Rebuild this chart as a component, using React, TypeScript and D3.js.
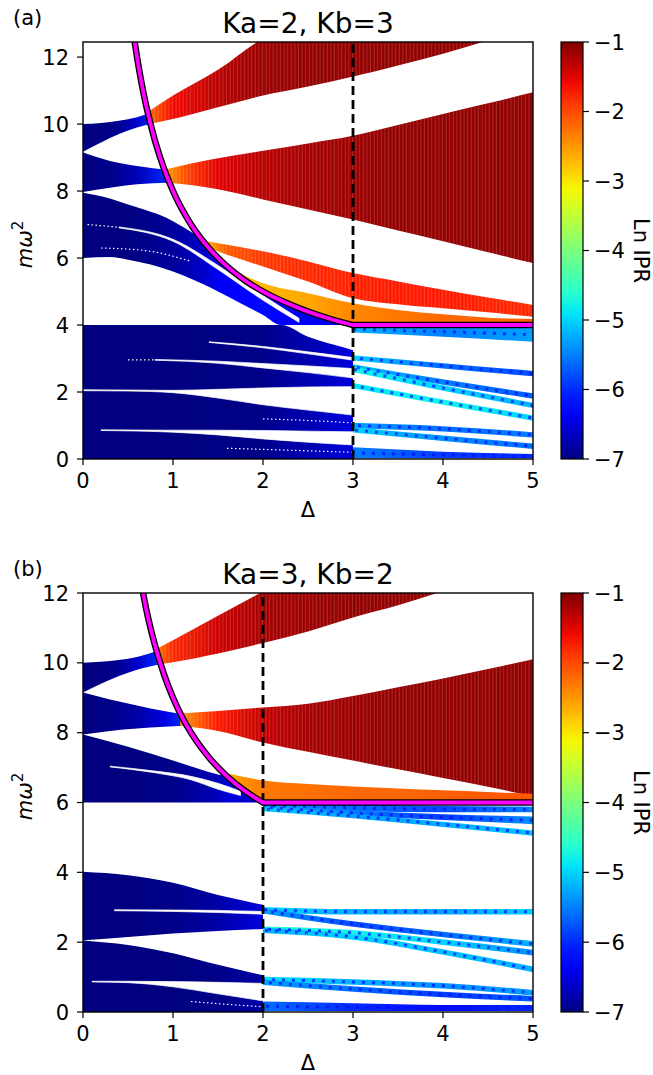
import React from "react";
import * as d3 from "d3";

// ---------- data ----------
const D_TICKS = [0, 1, 2, 3, 4, 5];
const Y_TICKS = [0, 2, 4, 6, 8, 10, 12];
const CB_TICKS = [-1, -2, -3, -4, -5, -6, -7];
const TITLES = ["Ka=2, Kb=3", "Ka=3, Kb=2"];
const LETTERS = ["(a)", "(b)"];
const DASH_AT = [3, 2];

type Band = { d: number[]; lo: number[]; hi: number[]; ipr?: number[]; tex?: boolean };
type Seam = { d: number[]; y: number[] };

// Panel (a)  Ka=2, Kb=3
const A_TOP_BLUE: Band = { d: [0, 0.2, 0.4, 0.6, 0.76], hi: [10.0, 10.03, 10.1, 10.2, 10.35], lo: [9.17, 9.45, 9.7, 9.9, 10.0], ipr: [-7, -7, -6.9, -6.6, -6.0] };
const A_TOP_RED: Band = { d: [0.74, 1.0, 1.5, 2.0, 2.5, 3.0, 3.5, 4.0, 4.5], hi: [10.4, 10.85, 11.62, 12.55, 13, 13, 13, 13, 13], lo: [10.0, 10.15, 10.5, 10.85, 11.12, 11.42, 11.75, 12.1, 12.5], ipr: [-2.2, -1.6, -1.3, -1.15, -1.1, -1.1, -1.1, -1.1, -1.1], tex: true };
const A_MID_BLUE: Band = { d: [0, 0.3, 0.6, 0.96], hi: [9.15, 8.9, 8.75, 8.62], lo: [7.97, 8.1, 8.2, 8.25], ipr: [-7, -6.95, -6.7, -6.0] };
const A_MID_RED: Band = { d: [0.93, 1.2, 1.5, 2, 2.5, 3, 3.5, 4, 4.5, 5], hi: [8.65, 8.82, 8.98, 9.2, 9.42, 9.65, 9.97, 10.3, 10.62, 10.95], lo: [8.25, 8.18, 8.05, 7.75, 7.45, 7.15, 6.82, 6.5, 6.17, 5.85], ipr: [-2.5, -1.9, -1.5, -1.3, -1.2, -1.15, -1.1, -1.1, -1.1, -1.1], tex: true };
const A_LOW_BLUE: Band = { d: [0, 0.3, 0.5, 1.0, 1.35, 1.5, 1.75, 2, 2.2, 2.5, 2.75, 3], hi: [7.95, 7.78, 7.6, 7.1, 6.45, 6.0, 5.43, 5.0, 4.73, 4.4, 4.18, 4.0], lo: [6.0, 6.03, 5.95, 5.6, 5.2, 5.0, 4.65, 4.3, 4.0, 4.0, 4.0, 4.0], ipr: [-7, -7, -7, -6.85, -6.6, -6.4, -6.3, -6.2, -6.3, -6.4, -6.45, -6.5] };
const A_LOW_RED: Band = { d: [1.38, 1.6, 2, 2.5, 3, 3.5, 4, 4.5, 5], hi: [6.5, 6.4, 6.2, 5.9, 5.55, 5.3, 5.05, 4.82, 4.6], lo: [6.32, 6.1, 5.75, 5.3, 4.8, 4.62, 4.5, 4.38, 4.25], ipr: [-2.6, -2.1, -1.9, -1.8, -1.75, -1.7, -1.7, -1.75, -1.8], tex: true };
const A_LOW_ORANGE: Band = { d: [1.7, 2, 2.5, 3, 3.5, 4, 4.5, 5], hi: [5.6, 5.25, 4.95, 4.65, 4.45, 4.32, 4.22, 4.18], lo: [5.5, 5.0, 4.4, 4.02, 4.02, 4.02, 4.02, 4.02], ipr: [-2.8, -2.7, -2.6, -2.4, -2.3, -2.2, -2.2, -2.1] };
const A_BLOCK: Band = { d: [0, 1, 2, 2.2, 2.5, 2.8, 3], hi: [4.0, 4.0, 4.0, 4.0, 3.65, 3.4, 3.25], lo: [0, 0, 0, 0, 0, 0, 0], ipr: [-7, -7, -6.95, -6.85, -6.75, -6.6, -6.5] };

const A_GAPS: Band[] = [
  { d: [1.4, 2, 2.5, 3], hi: [3.5, 3.36, 3.2, 3.03], lo: [3.48, 3.32, 3.14, 2.95] },
  { d: [0.8, 1.5, 2, 2.5, 3], hi: [2.97, 2.92, 2.85, 2.78, 2.7], lo: [2.95, 2.86, 2.72, 2.58, 2.42] },
  { d: [0, 0.5, 1, 1.5, 2, 2.5, 3], hi: [2.07, 2.06, 2.05, 2.08, 2.12, 2.15, 2.16], lo: [2.04, 2.03, 1.98, 1.82, 1.62, 1.46, 1.31] },
  { d: [0.2, 1, 1.5, 2, 2.5, 3], hi: [0.87, 0.86, 0.86, 0.85, 0.83, 0.81], lo: [0.85, 0.8, 0.72, 0.6, 0.5, 0.42] },
  { d: [0.4, 1.0, 1.5, 2.0, 2.4], hi: [6.93, 6.56, 5.78, 4.88, 4.2], lo: [6.9, 6.5, 5.66, 4.74, 4.08] },
];
const A_SEAMS: Seam[] = [
  { d: [1.6, 2.2, 3], y: [0.32, 0.27, 0.2] },
  { d: [2.0, 2.5, 3], y: [1.2, 1.15, 1.08] },
  { d: [0.2, 0.7, 1.2], y: [6.3, 6.22, 5.9] },
  { d: [0.05, 0.4], y: [7.0, 6.92] },
  { d: [0.5, 0.8], y: [2.96, 2.96] },
];
const A_THIN: Band[] = [
  { d: [3, 4, 5], lo: [3.78, 3.65, 3.5], hi: [3.97, 3.95, 3.92], ipr: [-5.2, -5.5, -5.3] },
  { d: [3, 4, 5], lo: [2.94, 2.7, 2.47], hi: [3.1, 2.86, 2.63], ipr: [-5.0, -5.6, -5.8] },
  { d: [3, 4, 5], lo: [2.67, 2.22, 1.8], hi: [2.83, 2.38, 1.96], ipr: [-5.1, -5.5, -5.7] },
  { d: [3, 4, 5], lo: [2.6, 2.04, 1.52], hi: [2.76, 2.2, 1.68], ipr: [-4.8, -5.0, -5.2] },
  { d: [3, 4, 5], lo: [2.11, 1.62, 1.14], hi: [2.27, 1.78, 1.3], ipr: [-4.9, -4.8, -5.0] },
  { d: [3, 4, 5], lo: [0.92, 0.82, 0.64], hi: [1.08, 0.98, 0.8], ipr: [-5.3, -5.6, -5.5] },
  { d: [3, 4, 5], lo: [0.79, 0.54, 0.3], hi: [0.95, 0.7, 0.46], ipr: [-5.0, -5.4, -5.6] },
  { d: [3, 4, 5], lo: [0.02, 0.02, 0.02], hi: [0.35, 0.22, 0.15], ipr: [-5.5, -5.9, -6.0] },
];
const A_CURVE_D = [0.57, 0.6, 0.65, 0.7, 0.8, 0.9, 1.0, 1.2, 1.4, 1.6, 1.8, 2.0, 2.25, 2.5, 2.75, 3.0];
const A_CURVE_Y = [12.53, 12.0, 11.23, 10.57, 9.5, 8.67, 8.0, 7.0, 6.29, 5.75, 5.33, 5.0, 4.67, 4.4, 4.18, 4.0];

// Panel (b)  Ka=3, Kb=2
const B_TOP_BLUE: Band = { d: [0, 0.2, 0.4, 0.6, 0.84], hi: [10.0, 10.03, 10.08, 10.17, 10.35], lo: [9.15, 9.4, 9.62, 9.8, 9.95], ipr: [-7, -7, -6.9, -6.6, -6.0] };
const B_TOP_RED: Band = { d: [0.82, 1.0, 1.5, 2.0, 2.5, 3, 3.5, 4, 4.5], hi: [10.4, 10.65, 11.35, 12.05, 12.8, 13, 13, 13, 13], lo: [9.95, 10.02, 10.27, 10.57, 10.9, 11.3, 11.65, 12.05, 12.4], ipr: [-2.3, -1.8, -1.4, -1.2, -1.15, -1.1, -1.1, -1.1, -1.1], tex: true };
const B_MID_BLUE: Band = { d: [0, 0.3, 0.6, 0.9, 1.12], hi: [9.15, 8.95, 8.78, 8.62, 8.52], lo: [7.95, 8.05, 8.12, 8.17, 8.2], ipr: [-7, -6.95, -6.8, -6.5, -6.0] };
const B_MID_RED: Band = { d: [1.08, 1.5, 2, 2.5, 3, 3.5, 4, 4.5, 5], hi: [8.55, 8.62, 8.72, 8.83, 9.05, 9.3, 9.55, 9.82, 10.1], lo: [8.2, 8.05, 7.72, 7.45, 7.2, 6.95, 6.7, 6.45, 6.18], ipr: [-2.5, -1.7, -1.35, -1.2, -1.15, -1.1, -1.1, -1.1, -1.1], tex: true };
const B_LOW_BLUE: Band = { d: [0, 0.5, 1.0, 1.5, 1.62, 1.75, 1.9, 2.0], hi: [7.95, 7.6, 7.2, 6.8, 6.72, 6.43, 6.16, 6.0], lo: [6.0, 6.0, 6.0, 6.0, 6.0, 6.0, 6.0, 6.0], ipr: [-7, -7, -6.95, -6.7, -6.5, -6.55, -6.65, -6.7] };
const B_ORANGE: Band = { d: [1.58, 1.75, 2, 2.5, 3, 3.5, 4, 4.5, 5], hi: [6.85, 6.75, 6.63, 6.53, 6.46, 6.4, 6.35, 6.3, 6.25], lo: [6.72, 6.45, 6.03, 6.03, 6.03, 6.03, 6.03, 6.03, 6.03], ipr: [-2.7, -2.5, -2.3, -2.25, -2.2, -2.2, -2.15, -2.1, -2.1] };
const B_UPPER: Band = { d: [0, 0.5, 1, 1.5, 2], hi: [4.02, 3.92, 3.7, 3.35, 3.07], lo: [2.05, 2.15, 2.25, 2.32, 2.38], ipr: [-7, -7, -6.95, -6.8, -6.5] };
const B_LOWER: Band = { d: [0, 0.5, 1, 1.5, 2], hi: [2.05, 1.92, 1.68, 1.35, 1.05], lo: [0, 0, 0, 0, 0], ipr: [-7, -7, -7, -6.95, -6.8] };

const B_GAPS: Band[] = [
  { d: [0.3, 0.8, 1.2, 1.5, 1.75], hi: [7.04, 6.9, 6.75, 6.55, 6.32], lo: [7.02, 6.85, 6.65, 6.38, 6.2] },
  { d: [0.35, 1, 1.5, 2], hi: [2.93, 2.92, 2.91, 2.88], lo: [2.9, 2.88, 2.85, 2.8] },
  { d: [0.1, 0.5, 1, 1.5, 2], hi: [0.88, 0.88, 0.87, 0.85, 0.82], lo: [0.86, 0.84, 0.72, 0.52, 0.32] },
];
const B_SEAMS: Seam[] = [
  { d: [1.2, 1.6, 2], y: [0.3, 0.22, 0.15] },
  { d: [0.05, 0.3], y: [2.05, 2.05] },
];
const B_THIN: Band[] = [
  { d: [2, 3, 4, 5], lo: [5.85, 5.75, 5.72, 5.72], hi: [5.98, 5.95, 5.9, 5.88], ipr: [-5.4, -5.6, -5.8, -5.5] },
  { d: [2, 3, 4, 5], lo: [5.8, 5.62, 5.5, 5.38], hi: [5.94, 5.78, 5.66, 5.6], ipr: [-5.2, -5.5, -5.9, -5.4] },
  { d: [2, 3, 4, 5], lo: [5.75, 5.55, 5.3, 5.05], hi: [5.88, 5.68, 5.45, 5.2], ipr: [-5.0, -5.3, -5.2, -5.1] },
  { d: [2, 3, 4, 5], lo: [2.85, 2.79, 2.79, 2.79], hi: [3.01, 2.95, 2.95, 2.95], ipr: [-5.0, -5.2, -5.3, -5.0] },
  { d: [2, 3, 4, 5], lo: [2.82, 2.44, 2.14, 1.87], hi: [2.98, 2.6, 2.3, 2.03], ipr: [-5.3, -5.8, -5.6, -5.2] },
  { d: [2, 3, 4, 5], lo: [2.29, 2.19, 1.92, 1.62], hi: [2.45, 2.35, 2.08, 1.78], ipr: [-4.6, -4.8, -5.0, -5.4] },
  { d: [2, 3, 4, 5], lo: [2.26, 2.07, 1.64, 1.14], hi: [2.42, 2.23, 1.8, 1.3], ipr: [-5.2, -5.0, -5.1, -5.2] },
  { d: [2, 3, 4, 5], lo: [0.85, 0.78, 0.67, 0.47], hi: [1.01, 0.94, 0.83, 0.63], ipr: [-4.9, -5.2, -5.4, -5.3] },
  { d: [2, 3, 4, 5], lo: [0.77, 0.58, 0.42, 0.3], hi: [0.93, 0.74, 0.58, 0.46], ipr: [-5.3, -5.6, -5.9, -5.7] },
  { d: [2, 3, 4, 5], lo: [0.03, 0.03, 0.03, 0.03], hi: [0.3, 0.25, 0.2, 0.2], ipr: [-5.6, -6.0, -6.2, -6.0] },
];
const B_CURVE_D = [0.64, 0.67, 0.7, 0.75, 0.8, 0.9, 1.0, 1.1, 1.2, 1.4, 1.6, 1.8, 2.0];
const B_CURVE_Y = [12.38, 11.96, 11.57, 11.0, 10.5, 9.67, 9.0, 8.45, 8.0, 7.29, 6.75, 6.33, 6.0];

// ---------- colormap (jet) ----------
const JET_R = [[0, 0], [0.35, 0], [0.66, 1], [0.89, 1], [1, 0.5]];
const JET_G = [[0, 0], [0.125, 0], [0.375, 1], [0.64, 1], [0.91, 0], [1, 0]];
const JET_B = [[0, 0.5], [0.11, 1], [0.34, 1], [0.65, 0], [1, 0]];
function seg(p: number[][], t: number) {
  for (let i = 1; i < p.length; i++) {
    if (t <= p[i][0]) {
      const [x0, y0] = p[i - 1];
      const [x1, y1] = p[i];
      return y0 + ((t - x0) / (x1 - x0)) * (y1 - y0);
    }
  }
  return p[p.length - 1][1];
}
const cnorm = d3.scaleLinear().domain([-7, -1]).range([0, 1]).clamp(true);
function jet(v: number) {
  const t = cnorm(v);
  return d3.rgb(seg(JET_R, t) * 255, seg(JET_G, t) * 255, seg(JET_B, t) * 255).formatHex();
}

const xs = d3.scaleLinear().domain([0, 5]).range([83, 533]);
const FONT = "DejaVu Sans, Liberation Sans, sans-serif";

type PanelCfg = {
  id: string;
  top: number;
  bottom: number;
  yMax: number;
  bands: Band[];
  gaps: Band[];
  seams: Seam[];
  thin: Band[];
  curveD: number[];
  curveY: number[];
  title: string;
  letter: string;
  dash: number;
};

function Panel({ c }: { c: PanelCfg }) {
  const ys = d3.scaleLinear().domain([0, c.yMax]).range([c.bottom, c.top]);
  const area = d3.area<number>().curve(d3.curveMonotoneX);
  const bandPath = (b: Band) =>
    area
      .x((_, i) => xs(b.d[i]))
      .y0((_, i) => ys(b.lo[i]))
      .y1((_, i) => ys(b.hi[i]))(b.d) as string;
  const lineGen = d3.line<number>().curve(d3.curveMonotoneX);
  const seamPath = (s: Seam) =>
    lineGen.x((_, i) => xs(s.d[i])).y((_, i) => ys(s.y[i]))(s.d) as string;
  const curvePath =
    (d3
      .line<number>()
      .curve(d3.curveMonotoneX)
      .x((_, i) => xs(c.curveD[i]))
      .y((_, i) => ys(c.curveY[i]))(c.curveD) as string) +
    `L${xs(5)},${ys(c.curveY[c.curveY.length - 1])}`;
  const clipId = `clip-${c.id}`;
  const grad = (b: Band, key: string) => {
    const d0 = b.d[0];
    const dn = b.d[b.d.length - 1];
    return (
      <linearGradient key={key} id={key} gradientUnits="userSpaceOnUse" x1={xs(d0)} x2={xs(dn)} y1={0} y2={0}>
        {b.d.map((d, i) => (
          <stop key={i} offset={(d - d0) / (dn - d0)} stopColor={jet((b.ipr as number[])[i])} />
        ))}
      </linearGradient>
    );
  };
  const midY = (c.top + c.bottom) / 2;
  const x0 = xs(0), x1 = xs(5);
  return (
    <g>
      <defs>
        <clipPath id={clipId}>
          <rect x={x0} y={c.top} width={x1 - x0} height={c.bottom - c.top} />
        </clipPath>
        <pattern id={`stripe-${c.id}`} patternUnits="userSpaceOnUse" width={3.6} height={8} x={x0}>
          <rect x={2.6} y={0} width={0.8} height={8} fill="#fff" opacity={0.22} />
        </pattern>
        {c.bands.map((b, i) => grad(b, `${c.id}-b${i}`))}
        {c.thin.map((b, i) => grad(b, `${c.id}-t${i}`))}
      </defs>
      <g clipPath={`url(#${clipId})`}>
        {c.bands.map((b, i) => (
          <path key={`b${i}`} d={bandPath(b)} fill={`url(#${c.id}-b${i})`} />
        ))}
        {c.bands.filter((b) => b.tex).map((b, i) => (
          <path key={`bt${i}`} d={bandPath(b)} fill={`url(#stripe-${c.id})`} />
        ))}
        {c.gaps.map((b, i) => (
          <path key={`g${i}`} d={bandPath(b)} fill="#fff" stroke="#fff" strokeWidth={0.7} />
        ))}
        {c.seams.map((s, i) => (
          <path key={`s${i}`} d={seamPath(s)} fill="none" stroke="#fff" strokeWidth={1.2} strokeDasharray="1.5 2.5" />
        ))}
        {c.thin.map((b, i) => (
          <path key={`t${i}`} d={bandPath(b)} fill={`url(#${c.id}-t${i})`} />
        ))}
        {c.thin.map((b, i) => (
          <path
            key={`ts${i}`}
            d={seamPath({ d: b.d, y: b.d.map((_, j) => (b.lo[j] + b.hi[j]) / 2) })}
            fill="none"
            stroke={jet(-6.2)}
            strokeWidth={3}
            strokeDasharray="3 7"
            strokeDashoffset={i * 3}
            opacity={0.7}
          />
        ))}
        <line x1={xs(c.dash)} x2={xs(c.dash)} y1={c.bottom} y2={c.top} stroke="#000" strokeWidth={2.8} strokeDasharray="9 5" />
        <path d={curvePath} fill="none" stroke="#000" strokeWidth={6.5} />
        <path d={curvePath} fill="none" stroke="#ff00ff" strokeWidth={3.8} />
      </g>
      <rect x={x0} y={c.top} width={x1 - x0} height={c.bottom - c.top} fill="none" stroke="#000" strokeWidth={1.4} />
      {D_TICKS.map((t) => (
        <g key={`xt${t}`}>
          <line x1={xs(t)} x2={xs(t)} y1={c.bottom} y2={c.bottom + 6} stroke="#000" strokeWidth={1.2} />
          <text x={xs(t)} y={c.bottom + 29} textAnchor="middle" fontSize={21} fontFamily={FONT}>{t}</text>
        </g>
      ))}
      {Y_TICKS.filter((t) => t <= c.yMax).map((t) => (
        <g key={`yt${t}`}>
          <line x1={x0 - 6} x2={x0} y1={ys(t)} y2={ys(t)} stroke="#000" strokeWidth={1.2} />
          <text x={x0 - 14} y={ys(t)} dy="0.36em" textAnchor="end" fontSize={21} fontFamily={FONT}>{t}</text>
        </g>
      ))}
      <text x={(x0 + x1) / 2} y={c.bottom + 58} textAnchor="middle" fontSize={21} fontFamily={FONT}>Δ</text>
      <text transform={`translate(32,${midY - 6}) rotate(-90)`} textAnchor="middle" fontSize={21} fontFamily={FONT}>
        <tspan fontStyle="italic">mω</tspan>
        <tspan fontSize={15} dy={-9}>2</tspan>
      </text>
      <text x={(x0 + x1) / 2} y={c.top - 9} textAnchor="middle" fontSize={28} fontFamily={FONT}>{c.title}</text>
      <text x={13} y={c.top - 17} fontSize={21} fontFamily={FONT}>{c.letter}</text>
      {/* colorbar */}
      <defs>
        <linearGradient id={`cbar-${c.id}`} x1={0} x2={0} y1={0} y2={1}>
          {d3.range(0, 1.0001, 0.05).map((t, i) => (
            <stop key={i} offset={t} stopColor={jet(-1 - 6 * t)} />
          ))}
        </linearGradient>
      </defs>
      <rect x={561} y={c.top} width={22} height={c.bottom - c.top} fill={`url(#cbar-${c.id})`} stroke="#000" strokeWidth={1.2} />
      {CB_TICKS.map((t) => {
        const yy = c.top + ((-1 - t) / 6) * (c.bottom - c.top);
        return (
          <g key={`cb${t}`}>
            <line x1={583} x2={589} y1={yy} y2={yy} stroke="#000" strokeWidth={1.2} />
            <text x={594} y={yy} dy="0.36em" fontSize={21} fontFamily={FONT}>{`−${-t}`}</text>
          </g>
        );
      })}
      <text transform={`translate(634,${midY}) rotate(90)`} textAnchor="middle" fontSize={21} fontFamily={FONT}>Ln IPR</text>
    </g>
  );
}

const PANELS: PanelCfg[] = [
  {
    id: "a", top: 42, bottom: 459, yMax: 12.45,
    bands: [A_BLOCK, A_LOW_BLUE, A_MID_BLUE, A_TOP_BLUE, A_TOP_RED, A_MID_RED, A_LOW_RED, A_LOW_ORANGE],
    gaps: A_GAPS, seams: A_SEAMS, thin: A_THIN,
    curveD: A_CURVE_D, curveY: A_CURVE_Y, title: TITLES[0], letter: LETTERS[0], dash: DASH_AT[0],
  },
  {
    id: "b", top: 593, bottom: 1012, yMax: 12,
    bands: [B_LOWER, B_UPPER, B_LOW_BLUE, B_MID_BLUE, B_TOP_BLUE, B_TOP_RED, B_MID_RED, B_ORANGE],
    gaps: B_GAPS, seams: B_SEAMS, thin: B_THIN,
    curveD: B_CURVE_D, curveY: B_CURVE_Y, title: TITLES[1], letter: LETTERS[1], dash: DASH_AT[1],
  },
];

export default function App() {
  return (
    <svg width={653} height={1075} style={{ position: "absolute", left: 0, top: 0, background: "#fff" }}>
      <rect width={653} height={1075} fill="#fff" />
      {PANELS.map((p) => (
        <Panel key={p.id} c={p} />
      ))}
    </svg>
  );
}
